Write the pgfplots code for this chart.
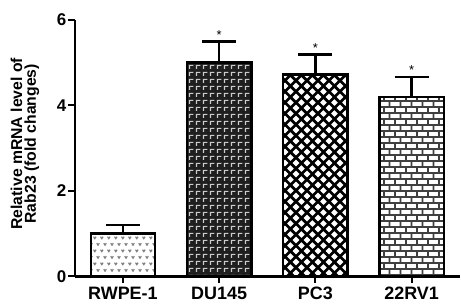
\documentclass[border=0pt]{standalone}
\usepackage{pgfplots}
\pgfplotsset{compat=1.18}
\usetikzlibrary{patterns}
\usepackage{fontspec}
\setmainfont{Liberation Sans}

\pgfdeclarepatternformonly{rwpat}{\pgfqpoint{0pt}{0pt}}{\pgfqpoint{7.2pt}{13pt}}{\pgfqpoint{7.2pt}{13pt}}{
  \pgfsetlinewidth{1.3pt}
  \pgfpathmoveto{\pgfqpoint{0.6pt}{4.3pt}}
  \pgfpathlineto{\pgfqpoint{2.0pt}{2.4pt}}
  \pgfpathlineto{\pgfqpoint{3.4pt}{4.3pt}}
  \pgfpathmoveto{\pgfqpoint{4.2pt}{10.8pt}}
  \pgfpathlineto{\pgfqpoint{5.6pt}{8.9pt}}
  \pgfpathlineto{\pgfqpoint{7.0pt}{10.8pt}}
  \pgfusepath{stroke}
}
\pgfdeclarepatternformonly{dupat}{\pgfqpoint{0pt}{0pt}}{\pgfqpoint{7pt}{6.5pt}}{\pgfqpoint{7pt}{6.5pt}}{
  \pgfsetlinewidth{1.2pt}
  \pgfpathmoveto{\pgfqpoint{1.5pt}{1.2pt}}
  \pgfpathlineto{\pgfqpoint{1.5pt}{5.0pt}}
  \pgfpathlineto{\pgfqpoint{5.3pt}{5.0pt}}
  \pgfusepath{stroke}
}
\pgfdeclarepatternformonly{pcpat}{\pgfqpoint{0pt}{0pt}}{\pgfqpoint{11pt}{11pt}}{\pgfqpoint{11pt}{11pt}}{
  \pgfsetlinewidth{2.8pt}
  \pgfpathmoveto{\pgfqpoint{0pt}{5.5pt}}
  \pgfpathlineto{\pgfqpoint{5.5pt}{11pt}}
  \pgfpathlineto{\pgfqpoint{11pt}{5.5pt}}
  \pgfpathlineto{\pgfqpoint{5.5pt}{0pt}}
  \pgfpathclose
  \pgfusepath{stroke}
}
\pgfdeclarepatternformonly{brpat}{\pgfqpoint{0pt}{0pt}}{\pgfqpoint{11pt}{12pt}}{\pgfqpoint{11pt}{12pt}}{
  \pgfsetlinewidth{1.6pt}
  \pgfpathmoveto{\pgfqpoint{0pt}{1pt}}\pgfpathlineto{\pgfqpoint{11pt}{1pt}}
  \pgfpathmoveto{\pgfqpoint{0pt}{7pt}}\pgfpathlineto{\pgfqpoint{11pt}{7pt}}
  \pgfpathmoveto{\pgfqpoint{1pt}{1pt}}\pgfpathlineto{\pgfqpoint{1pt}{7pt}}
  \pgfpathmoveto{\pgfqpoint{6.5pt}{7pt}}\pgfpathlineto{\pgfqpoint{6.5pt}{12pt}}
  \pgfpathmoveto{\pgfqpoint{6.5pt}{0pt}}\pgfpathlineto{\pgfqpoint{6.5pt}{1pt}}
  \pgfusepath{stroke}
}

\begin{document}
\begin{tikzpicture}
\path (-75pt,-29pt) rectangle (386pt,277pt);
\begin{axis}[
  at={(0pt,0pt)}, anchor=south west,
  width=386pt, height=257pt, scale only axis,
  xmin=-0.5, xmax=3.5, ymin=0, ymax=6,
  axis x line*=bottom, axis y line*=left,
  axis line style={line width=2.5pt, -},
  xtick={0,1,2,3}, xticklabels={RWPE-1,DU145,PC3,22RV1},
  ytick={0,2,4,6},
  tick align=outside, major tick length=7pt,
  tick style={line width=2pt, black},
  x tick label style={font=\fontsize{18}{18}\selectfont\bfseries},
  y tick label style={font=\fontsize{17}{17}\selectfont\bfseries, xshift=2pt},
  /pgf/number format/assume math mode=true,
  ylabel={Relative mRNA level of\\Rab23 (fold changes)},
  ylabel style={at={(axis description cs:-0.1295,0.517)}, anchor=center,
    align=center, font=\fontsize{15.8}{14}\selectfont\bfseries},
  clip=false,
  mybar/.style={ybar, bar width=64.5pt, bar shift=0pt, draw=black, line width=2.5pt,
    error bars/y dir=plus, error bars/y explicit,
    error bars/error bar style={line width=2.5pt, black},
    error bars/error mark options={line width=2.5pt, mark size=17pt, rotate=90, black}},
]
\addplot[mybar, preaction={fill=white}, pattern=rwpat, pattern color=black!50] coordinates {(0,1.0) +- (0,0.2)};
\addplot[mybar, preaction={fill=black!88}, pattern=dupat, pattern color=white!80!black] coordinates {(1,5.0) +- (0,0.5)};
\addplot[mybar, preaction={fill=white}, pattern=pcpat, pattern color=black] coordinates {(2,4.72) +- (0,0.47)};
\addplot[mybar, preaction={fill=white}, pattern=brpat, pattern color=black!75] coordinates {(3,4.2) +- (0,0.47)};
\addplot[draw=none, mark=none, forget plot,
  nodes near coords={*}, every node near coord/.style={anchor=base, yshift=2pt, font=\fontsize{13}{13}\selectfont}]
  coordinates {(1,5.5) (2,5.19) (3,4.67)};
\end{axis}
\end{tikzpicture}
\end{document}
